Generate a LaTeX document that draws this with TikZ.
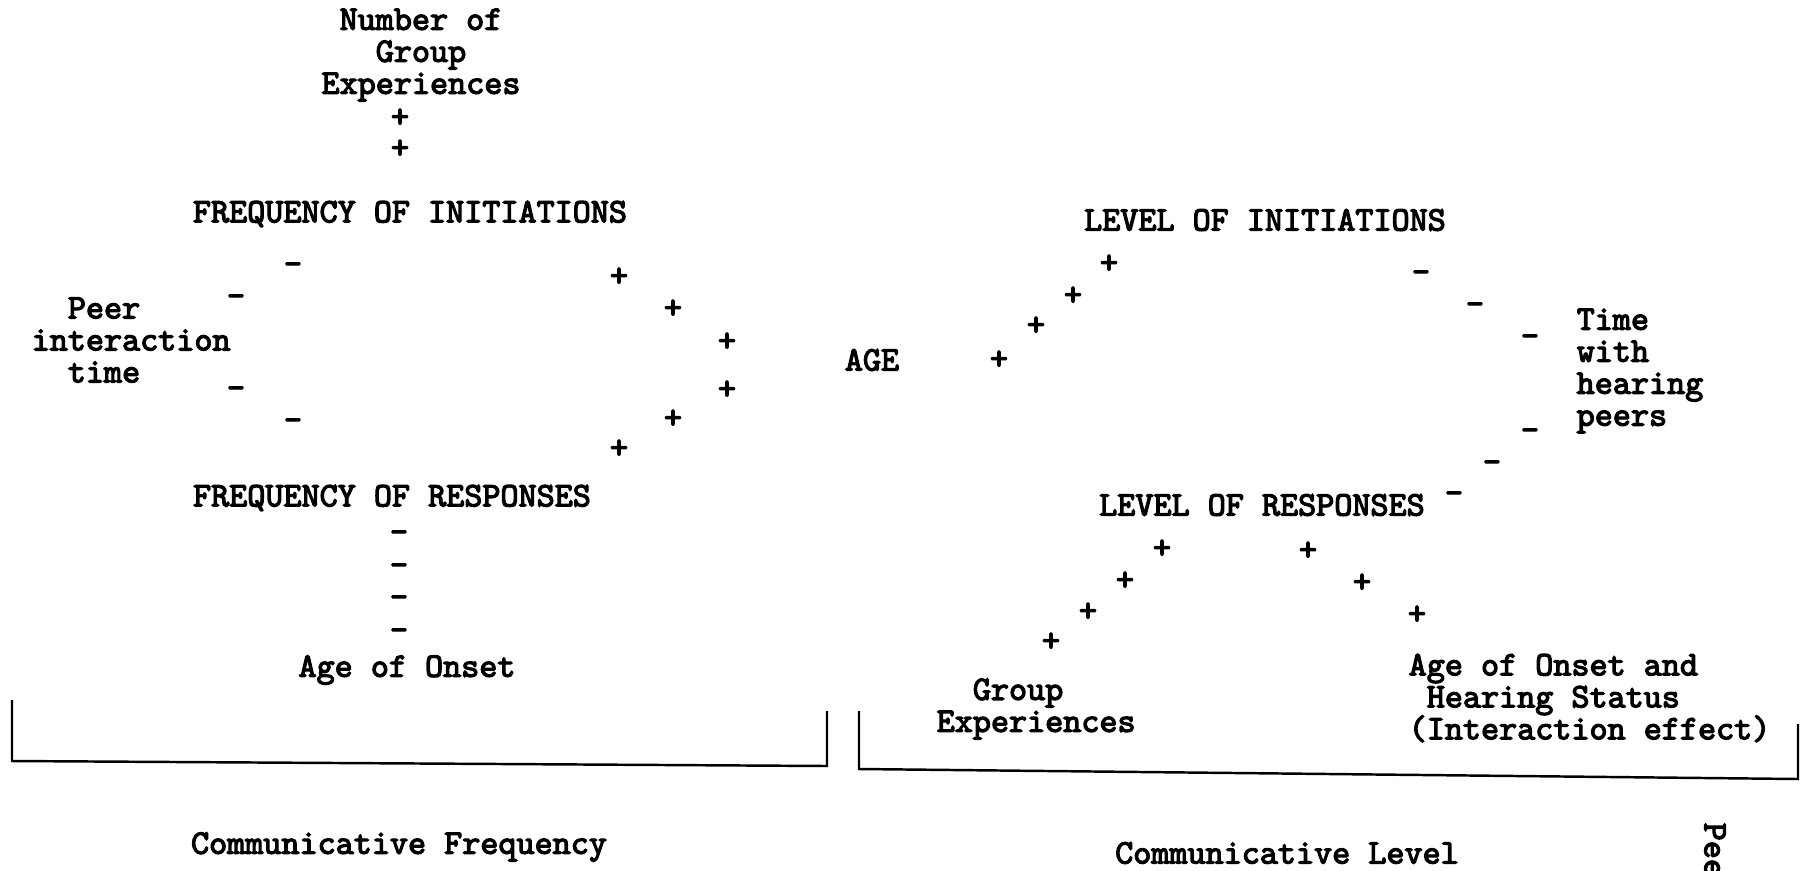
\documentclass[tikz,border=0pt]{standalone}
\usepackage{fontspec}
\newfontfamily\typer{Latin Modern Mono}[FakeBold=3.5]
\tikzset{
	txt/.style={font=\typer\fontsize{9.8}{9.1}\selectfont, inner sep=0pt}, % typed labels
	sgn/.style={txt}, % the + marks
	msgn/.style={txt,yshift=-0.55mm}, % the - marks sit a little lower
	bracketline/.style={line width=0.7pt}
}

\begin{document}
\begin{tikzpicture}[x=0.1mm,y=-0.1mm]
	\useasboundingbox (0,0) rectangle (1807,870);
	% Left half: frequency
	\node[txt,align=center] (numgroup) at (421,55) {Number of\\Group\\Experiences};
	\node[txt] (freqinit) at (410,214) {FREQUENCY OF INITIATIONS};
	\node[txt] (freqresp) at (392,498) {FREQUENCY OF RESPONSES};
	\node[txt,align=left,anchor=west] (peer) at (31,340) {\phantom{in}Peer\\interaction\\\phantom{in}time};
	\node[txt] (onset) at (407,670) {Age of Onset};
	\node[txt] (commfreq) at (399,847) {Communicative Frequency};
	% signs
	\foreach \x/\y [count=\i] in {400/118,400/149}
		\node[sgn] (ng\i) at (\x,\y) {+};
	\foreach \x/\y [count=\i] in {293/263,236/295,236/387,293/419}
		\node[msgn] (pt\i) at (\x,\y) {-};
	\foreach \x/\y [count=\i] in {619/277,673/309,727/342,727/390,673/419,619/449}
		\node[sgn] (ag\i) at (\x,\y) {+};
	\foreach \y [count=\i] in {531,564,596,629}
		\node[msgn] (on\i) at (399,\y) {-};
	% bracket under the left half
	\draw[bracketline] (12,700) -- (12,761) -- (827,766) -- (827,711);

	% Right half: level
	\node[txt] (age) at (872,360) {AGE};
	\node[txt] (levinit) at (1265,220) {LEVEL OF INITIATIONS};
	\node[txt] (levresp) at (1262,505) {LEVEL OF RESPONSES};
	\node[txt,align=left,anchor=west] (hearing) at (1576,371) {Time\\with\\hearing\\peers};
	\node[txt,align=left,anchor=west] (groupexp) at (936,709) {\phantom{Ex}Group\\Experiences};
	\node[txt,align=left,anchor=west] (status) at (1408,698) {Age of Onset and\\\phantom{A}Hearing Status\\(Interaction effect)};
	\node[txt] (commlev) at (1287,853) {Communicative Level};
	\node[txt,rotate=-90,anchor=west] (peerside) at (1715,822) {Peer};
	% signs
	\foreach \x/\y [count=\i] in {999/360,1036/326,1073/296,1109/264}
		\node[sgn] (ai\i) at (\x,\y) {+};
	\foreach \x/\y [count=\i] in {1421/271,1475/303,1530/335,1530/429,1492/461,1454/492}
		\node[msgn] (th\i) at (\x,\y) {-};
	\foreach \x/\y [count=\i] in {1162/549,1125/581,1088/612,1051/642}
		\node[sgn] (ge\i) at (\x,\y) {+};
	\foreach \x/\y [count=\i] in {1308/551,1362/583,1417/615}
		\node[sgn] (hs\i) at (\x,\y) {+};
	% bracket under the right half
	\draw[bracketline] (859,711) -- (859,769) -- (1798,779) -- (1798,724);
\end{tikzpicture}
\end{document}
